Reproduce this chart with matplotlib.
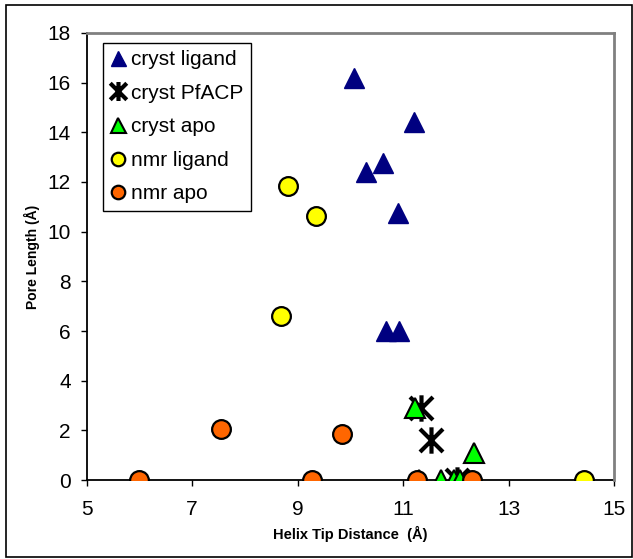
import numpy as np
import matplotlib
matplotlib.use('Agg')
import matplotlib.pyplot as plt
from matplotlib.path import Path
from matplotlib.patches import Rectangle

plt.rcParams['font.family'] = ['Liberation Sans', 'DejaVu Sans']

# Datos
cryst_ligand_x = [10.06, 11.20, 10.30, 10.61, 10.91, 10.67, 10.93]
cryst_ligand_y = [16.2, 14.4, 12.4, 12.75, 10.75, 6.0, 6.0]

cryst_pfacp_x = [11.34, 11.52, 12.02]
cryst_pfacp_y = [2.9, 1.6, 0.0]

cryst_apo_x = [11.22, 12.35, 11.30, 11.72, 11.96, 12.07]
cryst_apo_y = [2.9, 1.08, 0.0, 0.0, 0.0, 0.0]

nmr_ligand_x = [8.82, 9.35, 8.68, 14.43]
nmr_ligand_y = [11.85, 10.63, 6.61, 0.0]

nmr_apo_x = [6.0, 7.54, 9.84, 9.28, 11.26, 12.30]
nmr_apo_y = [0.0, 2.04, 1.85, 0.0, 0.0, 0.0]

x_ticks = [5, 7, 9, 11, 13, 15]
y_ticks = list(range(0, 19, 2))

# Marcador tipo asterisco de Excel (X con linea vertical)
asterisk = Path([(-1, -1), (1, 1), (-1, 1), (1, -1), (0, -1.15), (0, 1.15)],
                [Path.MOVETO, Path.LINETO, Path.MOVETO, Path.LINETO,
                 Path.MOVETO, Path.LINETO])

fig = plt.figure(figsize=(6.33, 5.59), dpi=100)
ax = fig.add_axes([0.137, 0.1413, 0.833, 0.7997])

ax.plot(cryst_ligand_x, cryst_ligand_y, linestyle='none', marker='^',
        markersize=15, color='#000080', markeredgecolor='#000080',
        label='cryst ligand', zorder=3)
ax.plot(cryst_pfacp_x, cryst_pfacp_y, linestyle='none', marker=asterisk,
        markersize=19, color='black', markeredgewidth=3,
        label='cryst PfACP', zorder=3)
ax.plot(cryst_apo_x, cryst_apo_y, linestyle='none', marker='^',
        markersize=15, color='#00FF00', markeredgecolor='black',
        markeredgewidth=1.5, label='cryst apo', zorder=3)
ax.plot(nmr_ligand_x, nmr_ligand_y, linestyle='none', marker='o',
        markersize=13.5, color='#FFFF00', markeredgecolor='black',
        markeredgewidth=1.6, label='nmr ligand', zorder=3)
ax.plot(nmr_apo_x, nmr_apo_y, linestyle='none', marker='o',
        markersize=13.5, color='#FF6600', markeredgecolor='black',
        markeredgewidth=1.6, label='nmr apo', zorder=3)

ax.set_xlim(5, 15)
ax.set_ylim(0, 18)
ax.set_xticks(x_ticks)
ax.set_yticks(y_ticks)
ax.tick_params(direction='out', length=4.5, width=1, labelsize=15,
               colors='black')
ax.tick_params(axis='y', pad=7)
ax.tick_params(axis='x', pad=10)

for s in ['top', 'right']:
    ax.spines[s].set_color('#808080')
    ax.spines[s].set_linewidth(2)
for s in ['left', 'bottom']:
    ax.spines[s].set_color('black')
    ax.spines[s].set_linewidth(1.3)
    ax.spines[s].set_zorder(2)

ax.set_xlabel('Helix Tip Distance  (Å)', fontsize=10.5, fontweight='bold')
ax.set_ylabel('Pore Length (Å)', fontsize=10, fontweight='bold')
ax.xaxis.set_label_coords(0.5, -0.103)
ax.yaxis.set_label_coords(-0.0886, 0.5)

leg = ax.legend(loc='upper left', bbox_to_anchor=(0.031, 0.978),
                borderaxespad=0, fontsize=15, markerscale=0.72,
                handlelength=0.75, handletextpad=0.25, borderpad=0.35,
                labelspacing=0.7, fancybox=False, framealpha=1,
                edgecolor='black')
leg.get_frame().set_linewidth(1)

# Borde exterior del grafico
fig.patches.append(Rectangle((6 / 633, 2 / 559), 626 / 633, 552 / 559,
                             transform=fig.transFigure, fill=False,
                             edgecolor='black', linewidth=1.2))

fig.savefig('out.png', dpi=100)
